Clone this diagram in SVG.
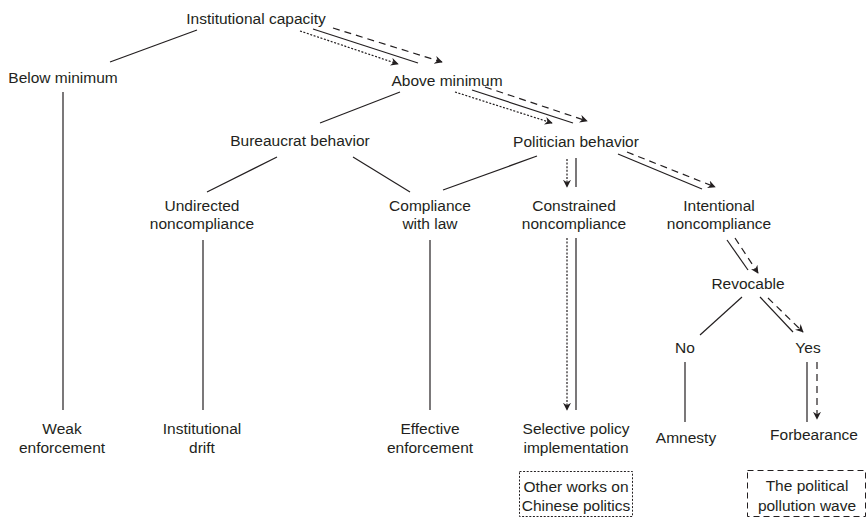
<svg xmlns="http://www.w3.org/2000/svg" width="868" height="519" viewBox="0 0 868 519">
<style>
text{font-family:"Liberation Sans",Arial,sans-serif;font-size:15.5px;fill:#231f20;text-anchor:middle}
.s{stroke:#231f20;stroke-width:1.2;fill:none}
.d{stroke:#231f20;stroke-width:1.2;fill:none;stroke-dasharray:7 5}
.o{stroke:#231f20;stroke-width:1.2;fill:none;stroke-dasharray:2 1.6}
.bx{fill:none;stroke:#231f20;stroke-width:1}
</style>
<defs>
<marker id="ah" viewBox="0 0 10 10" refX="9" refY="5" markerWidth="8" markerHeight="8" markerUnits="userSpaceOnUse" orient="auto">
<path d="M0,0 L10,5 L0,10 L3,5 z" fill="#231f20"/>
</marker>
</defs>
<rect width="868" height="519" fill="#fff"/>
<g id="connectors">
<line class="s" x1="197" y1="30" x2="110" y2="62"/>
<line class="o" x1="300" y1="31" x2="398" y2="64" marker-end="url(#ah)"/>
<line class="s" x1="313" y1="29" x2="418" y2="63"/>
<line class="d" x1="333" y1="28" x2="442" y2="62" marker-end="url(#ah)"/>
<line class="s" x1="400" y1="92" x2="320" y2="123"/>
<line class="o" x1="455" y1="92" x2="552" y2="123" marker-end="url(#ah)"/>
<line class="s" x1="472" y1="90" x2="573" y2="123"/>
<line class="d" x1="485" y1="87" x2="587" y2="121" marker-end="url(#ah)"/>
<line class="s" x1="277" y1="157" x2="207" y2="192"/>
<line class="s" x1="353" y1="157" x2="410" y2="192"/>
<line class="s" x1="537" y1="156" x2="443" y2="190"/>
<line class="o" x1="567" y1="159" x2="567" y2="187" marker-end="url(#ah)"/>
<line class="s" x1="576" y1="158" x2="576" y2="187"/>
<line class="s" x1="618" y1="154" x2="702" y2="189"/>
<line class="d" x1="627" y1="152" x2="715" y2="187" marker-end="url(#ah)"/>
<line class="s" x1="63" y1="92" x2="63" y2="410"/>
<line class="s" x1="203" y1="240" x2="203" y2="410"/>
<line class="s" x1="430" y1="240" x2="430" y2="410"/>
<line class="o" x1="567" y1="238" x2="567" y2="410" marker-end="url(#ah)"/>
<line class="s" x1="576" y1="238" x2="576" y2="410"/>
<line class="s" x1="727" y1="240" x2="748" y2="270"/>
<line class="d" x1="735" y1="238" x2="758" y2="273" marker-end="url(#ah)"/>
<line class="s" x1="742" y1="297" x2="700" y2="335"/>
<line class="s" x1="760" y1="297" x2="793" y2="332"/>
<line class="d" x1="768" y1="298" x2="803" y2="332" marker-end="url(#ah)"/>
<line class="s" x1="685" y1="362" x2="685" y2="422"/>
<line class="s" x1="807" y1="362" x2="807" y2="422"/>
<line class="d" x1="817" y1="362" x2="817" y2="419" marker-end="url(#ah)"/>
</g>
<g id="n-capacity"><text x="256" y="23.5">Institutional capacity</text></g>
<g id="n-below"><text x="63" y="82.5">Below minimum</text></g>
<g id="n-above"><text x="447" y="85.5">Above minimum</text></g>
<g id="n-bureaucrat"><text x="300" y="145.5">Bureaucrat behavior</text></g>
<g id="n-politician"><text x="576" y="147">Politician behavior</text></g>
<g id="n-undirected"><text x="202" y="210.5">Undirected</text><text x="202" y="228.5">noncompliance</text></g>
<g id="n-compliance"><text x="430" y="210.5">Compliance</text><text x="430" y="228.5">with law</text></g>
<g id="n-constrained"><text x="574" y="210.5">Constrained</text><text x="574" y="228.5">noncompliance</text></g>
<g id="n-intentional"><text x="719" y="210.5">Intentional</text><text x="719" y="228.5">noncompliance</text></g>
<g id="n-revocable"><text x="748" y="288.5">Revocable</text></g>
<g id="n-no"><text x="685" y="352.5">No</text></g>
<g id="n-yes"><text x="808" y="352.5">Yes</text></g>
<g id="n-weak"><text x="62" y="433.5">Weak</text><text x="62" y="452.5">enforcement</text></g>
<g id="n-drift"><text x="202" y="433.5">Institutional</text><text x="202" y="452.5">drift</text></g>
<g id="n-effective"><text x="430" y="433.5">Effective</text><text x="430" y="452.5">enforcement</text></g>
<g id="n-selective"><text x="576" y="433.5">Selective policy</text><text x="576" y="452.5">implementation</text></g>
<g id="n-amnesty"><text x="686" y="442.5">Amnesty</text></g>
<g id="n-forbearance"><text x="814" y="439.5">Forbearance</text></g>
<g id="n-other"><rect class="bx" x="519.5" y="471.5" width="113" height="45" stroke-dasharray="2 1.6"/><text x="576" y="492">Other works on</text><text x="576" y="510.5">Chinese politics</text></g>
<g id="n-wave"><rect class="bx" x="747.5" y="470.5" width="118" height="46" stroke-dasharray="6 4"/><text x="807" y="490.5">The political</text><text x="807" y="510.5">pollution wave</text></g>
</svg>
